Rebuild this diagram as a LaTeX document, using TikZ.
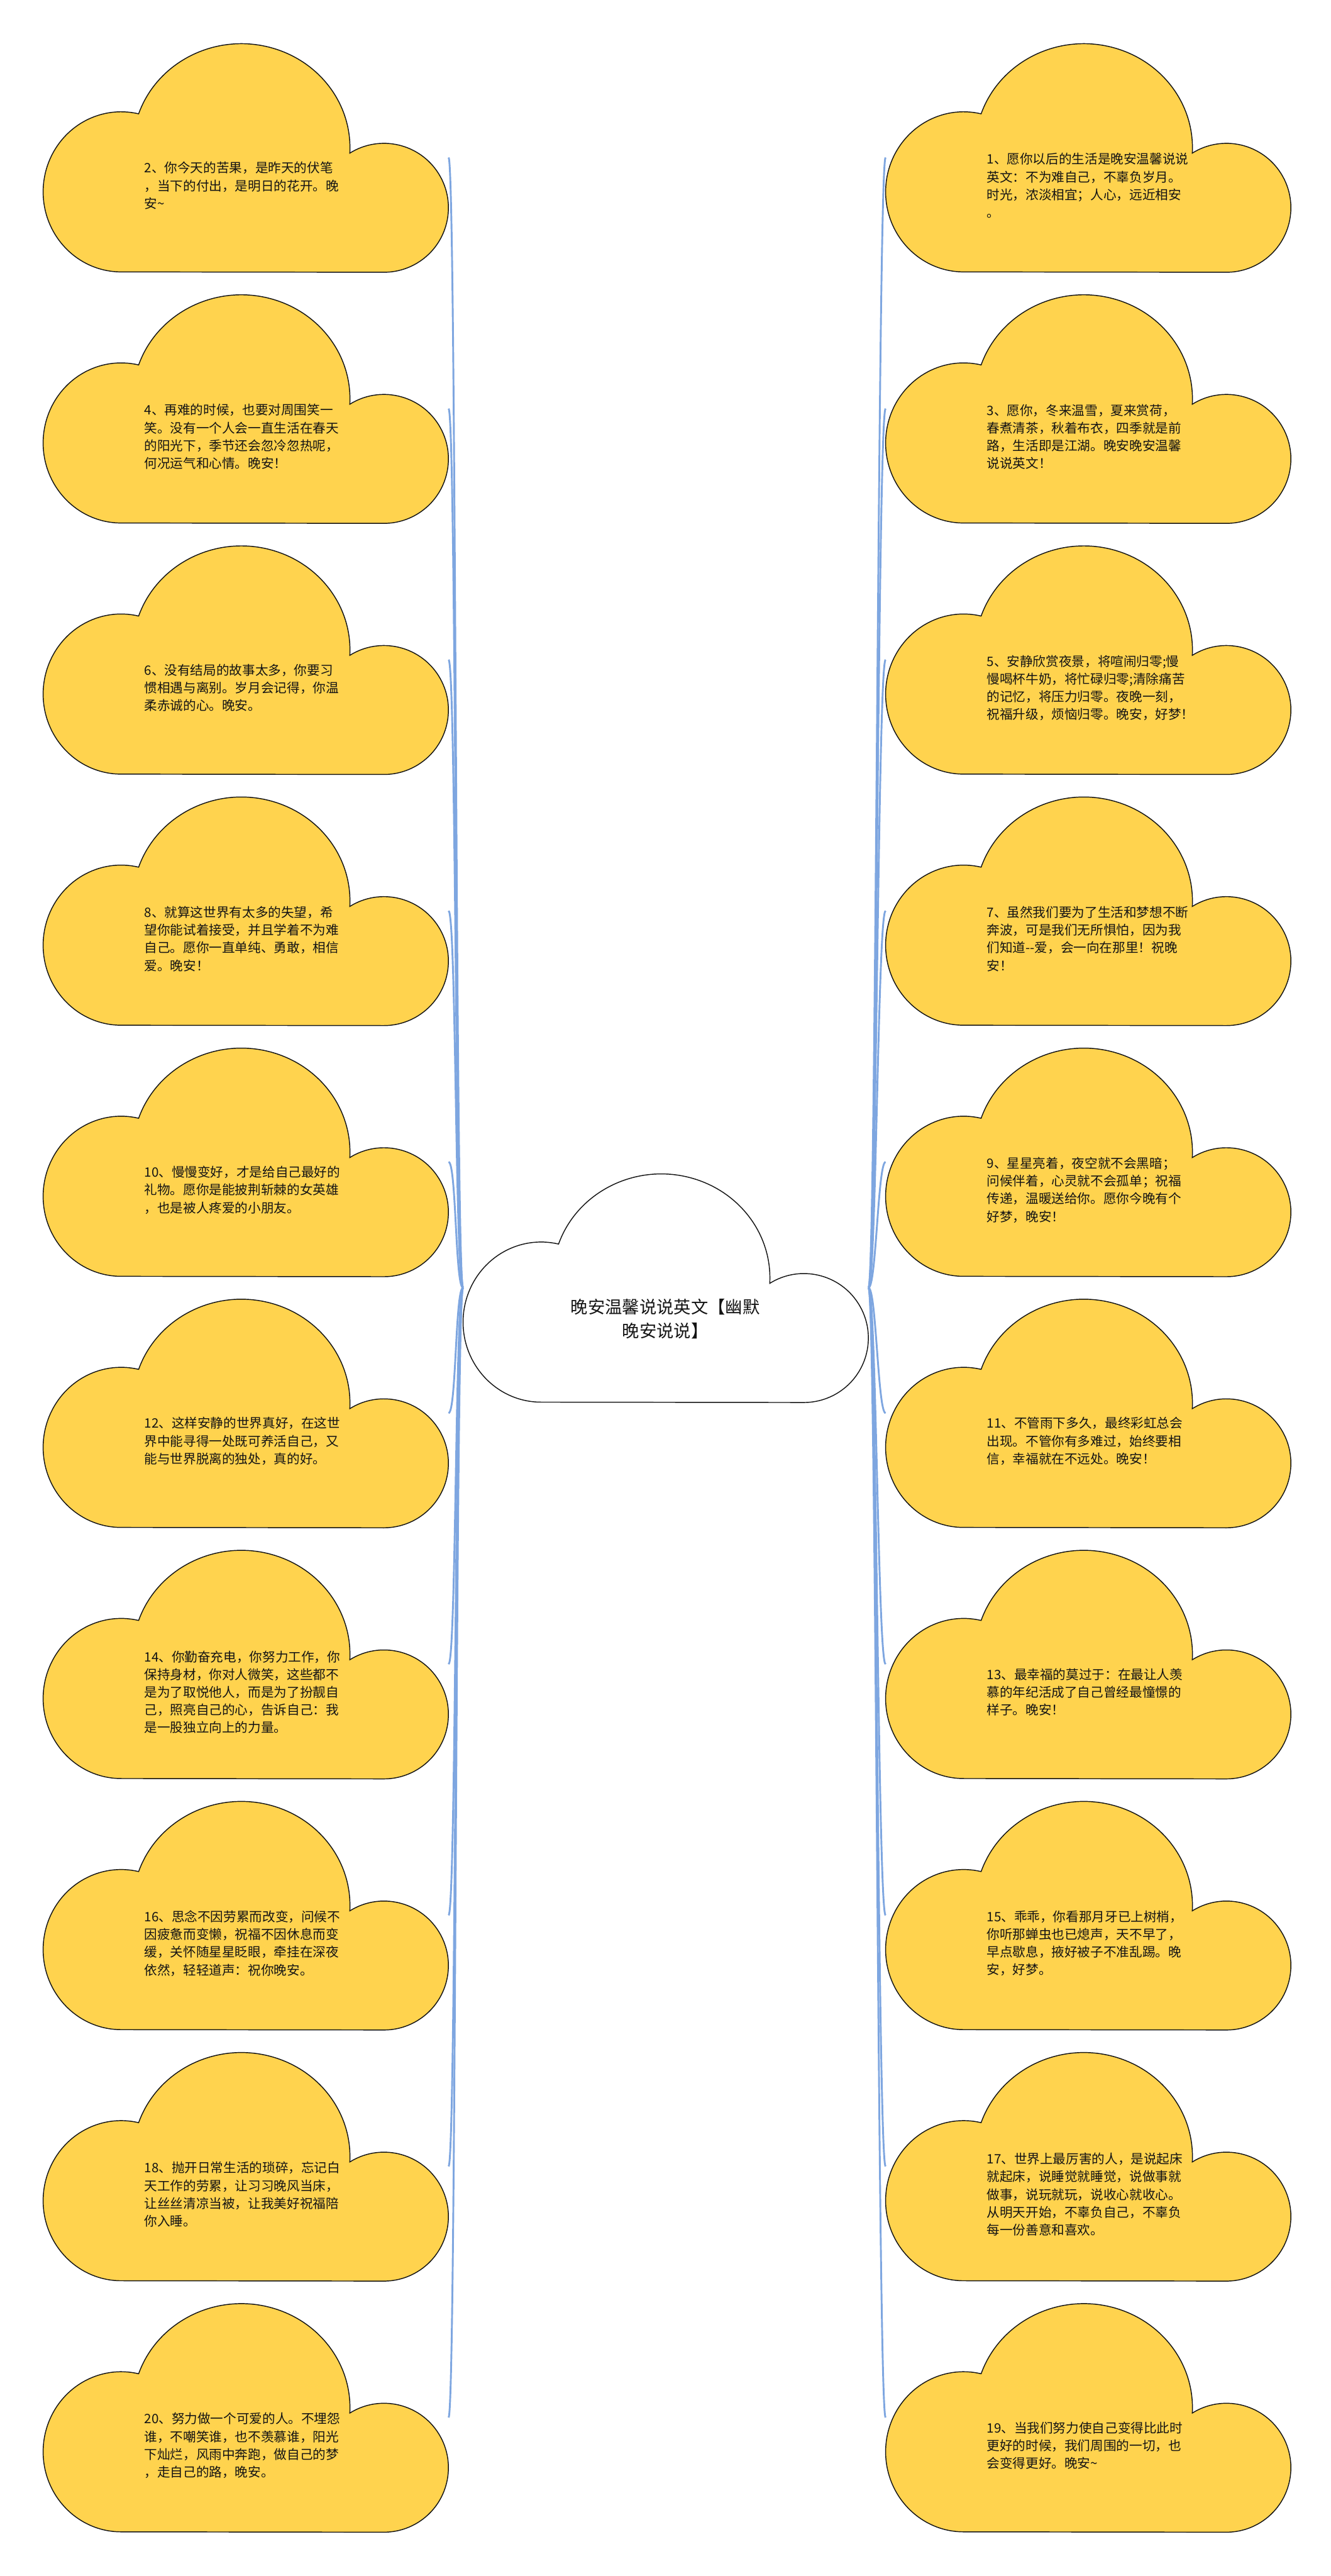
\documentclass[tikz,border=0pt]{standalone}
\usepackage{fontspec}
\setmainfont{Noto Sans CJK SC}
\usetikzlibrary{calc,backgrounds}
\definecolor{cldfill}{RGB}{255,211,78}
\definecolor{cldbdr}{RGB}{20,20,20}
\definecolor{lnkclr}{RGB}{126,166,224}
\definecolor{txtclr}{RGB}{20,20,20}
\tikzset{
  cbox/.style={rectangle,draw=none,minimum width=7.80cm,minimum height=4.40cm,
    inner sep=0pt,outer sep=0pt},
  cld/.style={fill=cldfill,draw=cldbdr,line width=0.5pt},
  ctxt/.style={font=\fontsize{7.1}{9.7}\selectfont,align=left,text=txtclr,
    inner sep=0pt,anchor=west},
  mtxt/.style={font=\fontsize{9.4}{13.2}\selectfont,align=center,text=txtclr,
    inner sep=0pt},
  lnk/.style={draw=lnkclr,line width=1pt},
  pics/cloud/.style={code={
    \path[pic actions] (1.50,-4.40)
      arc[start angle=270,end angle=77,x radius=1.50,y radius=1.54]
      arc[start angle=161,end angle=-3,x radius=2.09,y radius=2.00]
      arc[start angle=122,end angle=-90,x radius=1.24,y radius=1.24] -- cycle;
  }},
}
\begin{document}
\begin{tikzpicture}
  \useasboundingbox (0,0) rectangle (25.60,-49.55);

  %% Centre cloud
  \node[cbox] (ctr) at (12.81,-24.77) {};
  \pic[cld,fill=white] at (ctr.north west) {cloud};
  \node[mtxt] (ctrtxt) at ($(ctr.north west)+(3.89,-2.80)$)
    {晚安温馨说说英文【幽默\\晚安说说】};

  %% Left column: even numbers
  \foreach \lbl/\i in {
    {2、你今天的苦果，是昨天的伏笔\\，当下的付出，是明日的花开。晚\\安\textasciitilde}/2,
    {4、再难的时候，也要对周围笑一\\笑。没有一个人会一直生活在春天\\的阳光下，季节还会忽冷忽热呢，\\何况运气和心情。晚安！}/4,
    {6、没有结局的故事太多，你要习\\惯相遇与离别。岁月会记得，你温\\柔赤诚的心。晚安。}/6,
    {8、就算这世界有太多的失望，希\\望你能试着接受，并且学着不为难\\自己。愿你一直单纯、勇敢，相信\\爱。晚安！}/8,
    {10、慢慢变好，才是给自己最好的\\礼物。愿你是能披荆斩棘的女英雄\\，也是被人疼爱的小朋友。}/10,
    {12、这样安静的世界真好，在这世\\界中能寻得一处既可养活自己，又\\能与世界脱离的独处，真的好。}/12,
    {14、你勤奋充电，你努力工作，你\\保持身材，你对人微笑，这些都不\\是为了取悦他人，而是为了扮靓自\\己，照亮自己的心，告诉自己：我\\是一股独立向上的力量。}/14,
    {16、思念不因劳累而改变，问候不\\因疲惫而变懒，祝福不因休息而变\\缓，关怀随星星眨眼，牵挂在深夜\\依然，轻轻道声：祝你晚安。}/16,
    {18、抛开日常生活的琐碎，忘记白\\天工作的劳累，让习习晚风当床，\\让丝丝清凉当被，让我美好祝福陪\\你入睡。}/18,
    {20、努力做一个可爱的人。不埋怨\\谁，不嘲笑谁，也不羡慕谁，阳光\\下灿烂，风雨中奔跑，做自己的梦\\，走自己的路，晚安。}/20}{
    \pgfmathtruncatemacro\rw{(\i-1)/2}
    \node[cbox] (c\i) at (4.73,{-3.03-4.83*\rw}) {};
    \pic[cld] at (c\i.north west) {cloud};
    \node[ctxt] (t\i) at ($(c\i.north west)+(1.94,-2.74)$) {\lbl};
  }

  %% Right column: odd numbers
  \foreach \lbl/\i in {
    {1、愿你以后的生活是晚安温馨说说\\英文：不为难自己，不辜负岁月。\\时光，浓淡相宜；人心，远近相安\\。}/1,
    {3、愿你，冬来温雪，夏来赏荷，\\春煮清茶，秋着布衣，四季就是前\\路，生活即是江湖。晚安晚安温馨\\说说英文！}/3,
    {5、安静欣赏夜景，将喧闹归零;慢\\慢喝杯牛奶，将忙碌归零;清除痛苦\\的记忆，将压力归零。夜晚一刻，\\祝福升级，烦恼归零。晚安，好梦！}/5,
    {7、虽然我们要为了生活和梦想不断\\奔波，可是我们无所惧怕，因为我\\们知道-{}-爱，会一向在那里！祝晚\\安！}/7,
    {9、星星亮着，夜空就不会黑暗；\\问候伴着，心灵就不会孤单；祝福\\传递，温暖送给你。愿你今晚有个\\好梦，晚安！}/9,
    {11、不管雨下多久，最终彩虹总会\\出现。不管你有多难过，始终要相\\信，幸福就在不远处。晚安！}/11,
    {13、最幸福的莫过于：在最让人羡\\慕的年纪活成了自己曾经最憧憬的\\样子。晚安！}/13,
    {15、乖乖，你看那月牙已上树梢，\\你听那蝉虫也已熄声，天不早了，\\早点歇息，掖好被子不准乱踢。晚\\安，好梦。}/15,
    {17、世界上最厉害的人，是说起床\\就起床，说睡觉就睡觉，说做事就\\做事，说玩就玩，说收心就收心。\\从明天开始，不辜负自己，不辜负\\每一份善意和喜欢。}/17,
    {19、当我们努力使自己变得比此时\\更好的时候，我们周围的一切，也\\会变得更好。晚安\textasciitilde}/19}{
    \pgfmathtruncatemacro\rw{(\i-1)/2}
    \node[cbox] (c\i) at (20.94,{-3.03-4.83*\rw}) {};
    \pic[cld] at (c\i.north west) {cloud};
    \node[ctxt] (t\i) at ($(c\i.north west)+(1.94,-2.74)$) {\lbl};
  }

  %% Links from the centre
  \begin{scope}[on background layer]
    \foreach \i in {2,4,...,20}
      \draw[lnk] (ctr.west) .. controls +(-0.15,0) and +(0.15,0) .. (c\i.east);
    \foreach \i in {1,3,...,19}
      \draw[lnk] (ctr.east) .. controls +(0.15,0) and +(-0.15,0) .. (c\i.west);
  \end{scope}

\end{tikzpicture}
\end{document}
